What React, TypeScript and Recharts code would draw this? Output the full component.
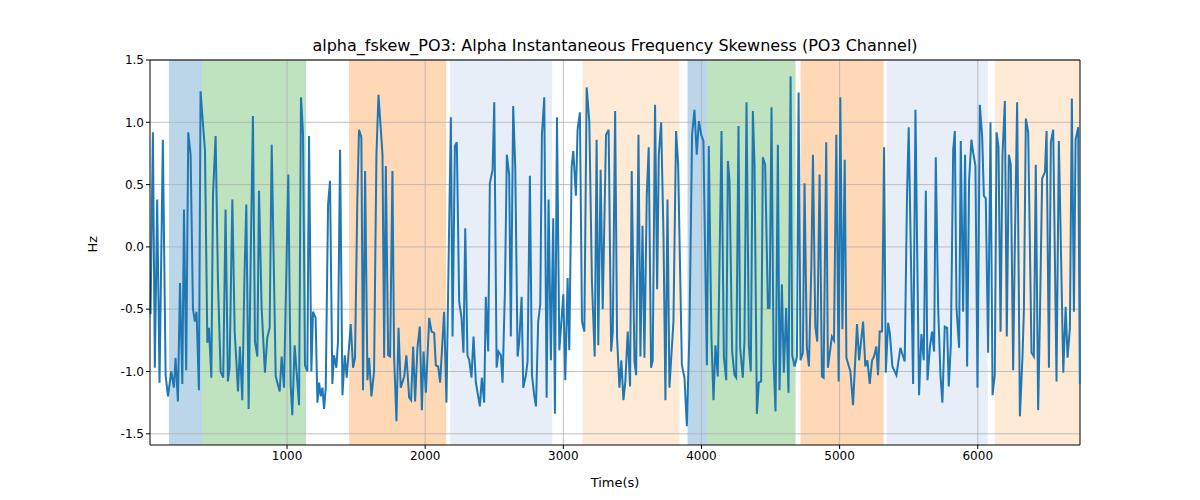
import { LineChart, Line, XAxis, YAxis, ReferenceArea, ReferenceLine } from "recharts";

// sample times (s) and skewness values (Hz)
const TIMES = [
  12, 29, 43, 60, 77, 101, 121, 138, 162, 181, 193, 210, 225, 242, 254, 270, 285, 302, 319, 333,
  345, 362, 374, 406, 423, 435, 452, 464, 483, 500, 519, 538, 555, 572, 584, 604, 621, 645, 659, 676,
  691, 705, 722, 737, 753, 768, 785, 797, 816, 840, 857, 874, 889, 918, 947, 961, 978, 1009, 1026, 1038,
  1055, 1087, 1101, 1116, 1130, 1147, 1159, 1176, 1188, 1207, 1220, 1232, 1244, 1256, 1268, 1280, 1297, 1311, 1328, 1340,
  1357, 1369, 1384, 1401, 1418, 1432, 1444, 1461, 1478, 1492, 1509, 1521, 1538, 1550, 1565, 1582, 1594, 1611, 1630, 1647,
  1662, 1691, 1703, 1715, 1732, 1746, 1763, 1775, 1792, 1807, 1823, 1848, 1864, 1884, 1898, 1913, 1927, 1944, 1961, 1976,
  1988, 2005, 2029, 2046, 2065, 2077, 2094, 2108, 2137, 2154, 2174, 2186, 2198, 2215, 2229, 2246, 2263, 2277, 2290, 2306,
  2319, 2335, 2350, 2367, 2396, 2410, 2427, 2439, 2456, 2468, 2488, 2500, 2517, 2531, 2548, 2560, 2577, 2591, 2608, 2620,
  2637, 2652, 2669, 2681, 2698, 2710, 2729, 2741, 2758, 2773, 2789, 2802, 2818, 2833, 2845, 2862, 2879, 2893, 2910, 2927,
  2939, 2954, 2971, 2988, 3000, 3014, 3031, 3043, 3060, 3072, 3091, 3103, 3120, 3135, 3152, 3169, 3188, 3207, 3227, 3241,
  3253, 3270, 3285, 3309, 3328, 3346, 3358, 3375, 3389, 3406, 3420, 3435, 3449, 3466, 3483, 3495, 3515, 3527, 3544, 3558,
  3573, 3587, 3604, 3618, 3635, 3647, 3664, 3679, 3691, 3708, 3725, 3739, 3754, 3768, 3797, 3816, 3831, 3858, 3877, 3894,
  3913, 3932, 3949, 3966, 3981, 3998, 4014, 4039, 4053, 4072, 4087, 4101, 4118, 4145, 4162, 4179, 4191, 4203, 4222, 4239,
  4251, 4268, 4280, 4299, 4311, 4326, 4343, 4357, 4372, 4384, 4401, 4415, 4432, 4444, 4461, 4481, 4493, 4507, 4522, 4536,
  4553, 4565, 4582, 4596, 4613, 4630, 4645, 4657, 4674, 4691, 4703, 4717, 4734, 4746, 4763, 4778, 4795, 4807, 4824, 4838,
  4855, 4872, 4884, 4903, 4915, 4944, 4959, 4976, 4993, 5005, 5020, 5037, 5049, 5078, 5097, 5126, 5141, 5170, 5186, 5201,
  5218, 5235, 5249, 5266, 5278, 5290, 5307, 5322, 5334, 5351, 5363, 5382, 5411, 5440, 5471, 5488, 5500, 5515, 5532, 5549,
  5563, 5575, 5592, 5609, 5624, 5636, 5653, 5669, 5684, 5696, 5713, 5730, 5744, 5761, 5778, 5790, 5805, 5822, 5834, 5846,
  5865, 5877, 5894, 5908, 5923, 5937, 5954, 5966, 5983, 5998, 6015, 6032, 6044, 6058, 6075, 6092, 6107, 6123, 6136, 6150,
  6165, 6179, 6196, 6210, 6225, 6239, 6256, 6268, 6285, 6305, 6324, 6334, 6348, 6365, 6389, 6406, 6420, 6437, 6449, 6466,
  6486, 6498, 6515, 6529, 6546, 6570, 6587, 6619, 6636, 6650, 6667, 6681, 6696, 6708, 6727, 6739,
];

const VALUES = [
  -0.54, 0.92, -0.97, 0.38, -1.09, 0.86, -1.03, -1.2, -1.0, -1.13, -0.89, -1.24, -0.29, -1.1, 0.3, -0.99, 0.92, 0.74, -0.5, -0.6,
  -0.52, -1.15, 1.25, 0.77, -0.77, -0.65, -1.05, 0.42, 0.89, -0.28, -1.0, -1.05, 0.3, -1.08, -0.97, 0.38, -0.68, -1.16, -0.8, -1.23,
  -0.28, 0.34, -1.3, -0.09, 1.05, -0.76, -0.88, 0.45, -0.49, -1.01, -0.73, -0.65, 0.82, -1.04, -1.16, -0.88, -1.13, 0.58, -1.1, -1.35,
  -0.79, -1.27, 1.2, 0.9, -0.95, -1.0, 0.89, -1.0, -0.52, -0.57, -1.25, -1.09, -1.2, -1.13, -1.3, -1.13, 0.34, 0.53, -1.1, -0.87,
  -0.97, -0.76, 0.78, -1.19, -0.87, -1.05, -0.87, -0.62, -0.97, -0.89, 0.39, 0.94, 0.88, -1.15, 0.61, -1.07, -0.89, -1.2, -1.0, 0.74,
  1.22, 0.74, -0.89, 0.65, -0.87, -0.88, 0.61, -0.88, -1.4, -0.65, -1.13, -1.04, -0.87, -1.21, -1.23, -0.8, -1.24, -0.81, -0.64, -1.31,
  -0.84, -1.17, -0.57, -0.68, -0.69, -0.95, -0.96, -1.09, -0.52, -1.25, 0.21, 1.04, -0.72, 0.81, 0.84, -0.44, -0.57, -0.85, 0.15, -0.87,
  -0.91, -1.05, -0.72, -1.09, -1.28, -1.05, -1.25, -0.4, -0.84, 0.51, 0.62, 1.16, -0.97, -0.84, -0.87, -1.09, -0.36, 0.74, 0.58, -0.72,
  1.13, 0.64, -0.88, -0.76, -0.4, -1.13, -1.03, -0.92, 0.57, -1.03, -1.19, -1.28, -0.6, -0.46, 0.9, 1.2, -1.21, 0.38, -0.91, 0.23,
  -1.34, 1.04, -0.83, -0.57, -0.38, -1.07, -0.25, -0.83, 0.64, 0.77, 0.41, 0.94, 1.08, -0.6, -0.68, 1.28, 1.01, -0.28, -0.88, 0.86,
  -0.79, 0.62, -0.5, 0.9, 0.94, -0.84, -0.68, 1.09, -0.73, -1.13, -0.91, -1.23, -1.08, -0.68, -1.12, 0.61, -0.92, -1.03, 0.9, -0.88,
  0.17, -0.89, 0.42, 0.8, -0.97, -0.91, 1.14, -0.34, 0.74, 1.0, 0.09, -1.23, 0.38, -1.13, -0.6, 0.93, 0.66, -0.95, -1.05, -1.44,
  -0.68, 0.9, 1.1, 0.74, 1.01, 0.9, 0.85, -0.95, 0.81, -0.73, -1.23, -0.79, -1.04, 0.93, -0.88, -1.07, 0.69, 0.53, -0.84, -1.03,
  -1.05, 0.97, -0.81, -1.05, -0.76, 1.16, -0.79, -1.0, 1.09, 0.66, -1.34, -1.09, -1.08, 0.72, 0.66, -0.49, -0.49, 1.12, -0.92, -1.32,
  0.82, -1.15, -0.3, -1.01, -0.49, -1.17, 1.37, -0.87, -0.96, -0.88, 1.24, -0.91, -0.85, 0.51, -0.81, -0.96, -0.17, 0.74, -0.64, -0.76,
  0.58, -1.04, -1.05, 0.84, -0.97, -0.72, -0.75, 0.9, -1.08, 1.2, -0.66, 0.7, -0.89, -1.0, -1.27, -0.62, -0.91, -0.6, -0.96, -0.91,
  -1.1, -0.91, -0.88, -0.8, -1.03, -0.68, -0.68, 0.8, -1.01, -0.61, -0.69, -0.96, -1.03, -0.81, -0.92, 0.42, 0.96, -0.01, -1.1, 1.1,
  -0.17, -1.19, -0.7, -0.91, 0.45, -1.07, -0.81, -0.68, -0.84, 0.72, -0.48, -1.03, -1.25, -0.64, -0.65, -1.12, -0.79, 0.78, 0.93, -0.49,
  -0.81, 0.85, -0.52, 0.74, -0.96, 0.53, 0.86, 0.76, 0.65, -1.13, 1.14, 0.88, 0.41, 0.39, -0.85, 1.0, -1.19, -1.03, 0.92, 0.8,
  -0.68, 0.74, 1.17, -0.72, 0.74, 0.66, -0.99, -0.01, 1.16, -1.36, -0.87, -0.5, 1.03, 0.92, -0.85, -0.88, 0.66, -1.31, -0.62, 0.55,
  0.6, 0.93, -0.97, 0.84, 0.94, -1.08, 0.85, -1.01, -0.48, -0.89, -0.65, 1.19, -0.52, 0.86, 0.96, -1.1,
];

const X_TICKS = [1000, 2000, 3000, 4000, 5000, 6000];
const Y_TICKS = [-1.5, -1.0, -0.5, 0.0, 0.5, 1.0, 1.5];

// shaded segments: [start, end, colour, opacity]
const SEGMENTS: [number, number, string, number][] = [
  [145, 384, "#1f77b4", 0.3],
  [384, 1138, "#2ca02c", 0.3],
  [1449, 2152, "#ff7f0e", 0.3],
  [2181, 2920, "#aec7e8", 0.3],
  [3138, 3841, "#ffbb78", 0.3],
  [3899, 4043, "#1f77b4", 0.3],
  [4043, 4681, "#2ca02c", 0.3],
  [4717, 5319, "#ff7f0e", 0.3],
  [5341, 6072, "#aec7e8", 0.3],
  [6123, 6740, "#ffbb78", 0.3],
];

const data = TIMES.map((t, i) => ({ t, v: VALUES[i] }));

const FONT = "DejaVu Sans, sans-serif";
const TICK = { fill: "#000", fontSize: 12, fontFamily: FONT };

export default function App() {
  return (
    <div style={{ position: "absolute", left: 0, top: 0, width: 1200, height: 500, background: "#fff" }}>
      <div
        style={{
          position: "absolute", top: 36, left: 150, width: 930, textAlign: "center",
          fontFamily: FONT, fontSize: 16, color: "#000",
        }}
      >
        alpha_fskew_PO3: Alpha Instantaneous Frequency Skewness (PO3 Channel)
      </div>
      <LineChart width={1200} height={500} data={data} margin={{ top: 60, right: 120, bottom: 25, left: 90 }}>
        <XAxis
          dataKey="t" type="number" domain={[8, 6740]} ticks={X_TICKS} tick={TICK}
          axisLine={{ stroke: "#000" }} tickLine={{ stroke: "#000" }} tickSize={4}
          label={{ value: "Time(s)", position: "insideBottom", offset: -12, fill: "#000", fontSize: 13, fontFamily: FONT }}
        />
        <YAxis
          type="number" domain={[-1.59, 1.5]} ticks={Y_TICKS} tick={TICK} width={60}
          tickFormatter={(v) => v.toFixed(1)} axisLine={{ stroke: "#000" }} tickLine={{ stroke: "#000" }} tickSize={4}
          allowDataOverflow
          label={{ value: "Hz", angle: -90, position: "insideLeft", offset: 0, dx: 2, fill: "#000", fontSize: 13, fontFamily: FONT }}
        />
        {SEGMENTS.map(([a, b, c, o], i) => (
          <ReferenceArea key={i} x1={a} x2={b} fill={c} fillOpacity={o} stroke="none" ifOverflow="hidden" />
        ))}
        {X_TICKS.map((x) => (
          <ReferenceLine key={"x" + x} x={x} stroke="#b0b0b0" strokeWidth={0.8} />
        ))}
        {Y_TICKS.map((y) => (
          <ReferenceLine key={"y" + y} y={y} stroke="#b0b0b0" strokeWidth={0.8} />
        ))}
        <ReferenceLine x={6740} stroke="#000" strokeWidth={1} />
        <ReferenceLine y={1.5} stroke="#000" strokeWidth={1} />
        <Line dataKey="v" stroke="#1f77b4" strokeWidth={2} dot={false} isAnimationActive={false} />
      </LineChart>
    </div>
  );
}
